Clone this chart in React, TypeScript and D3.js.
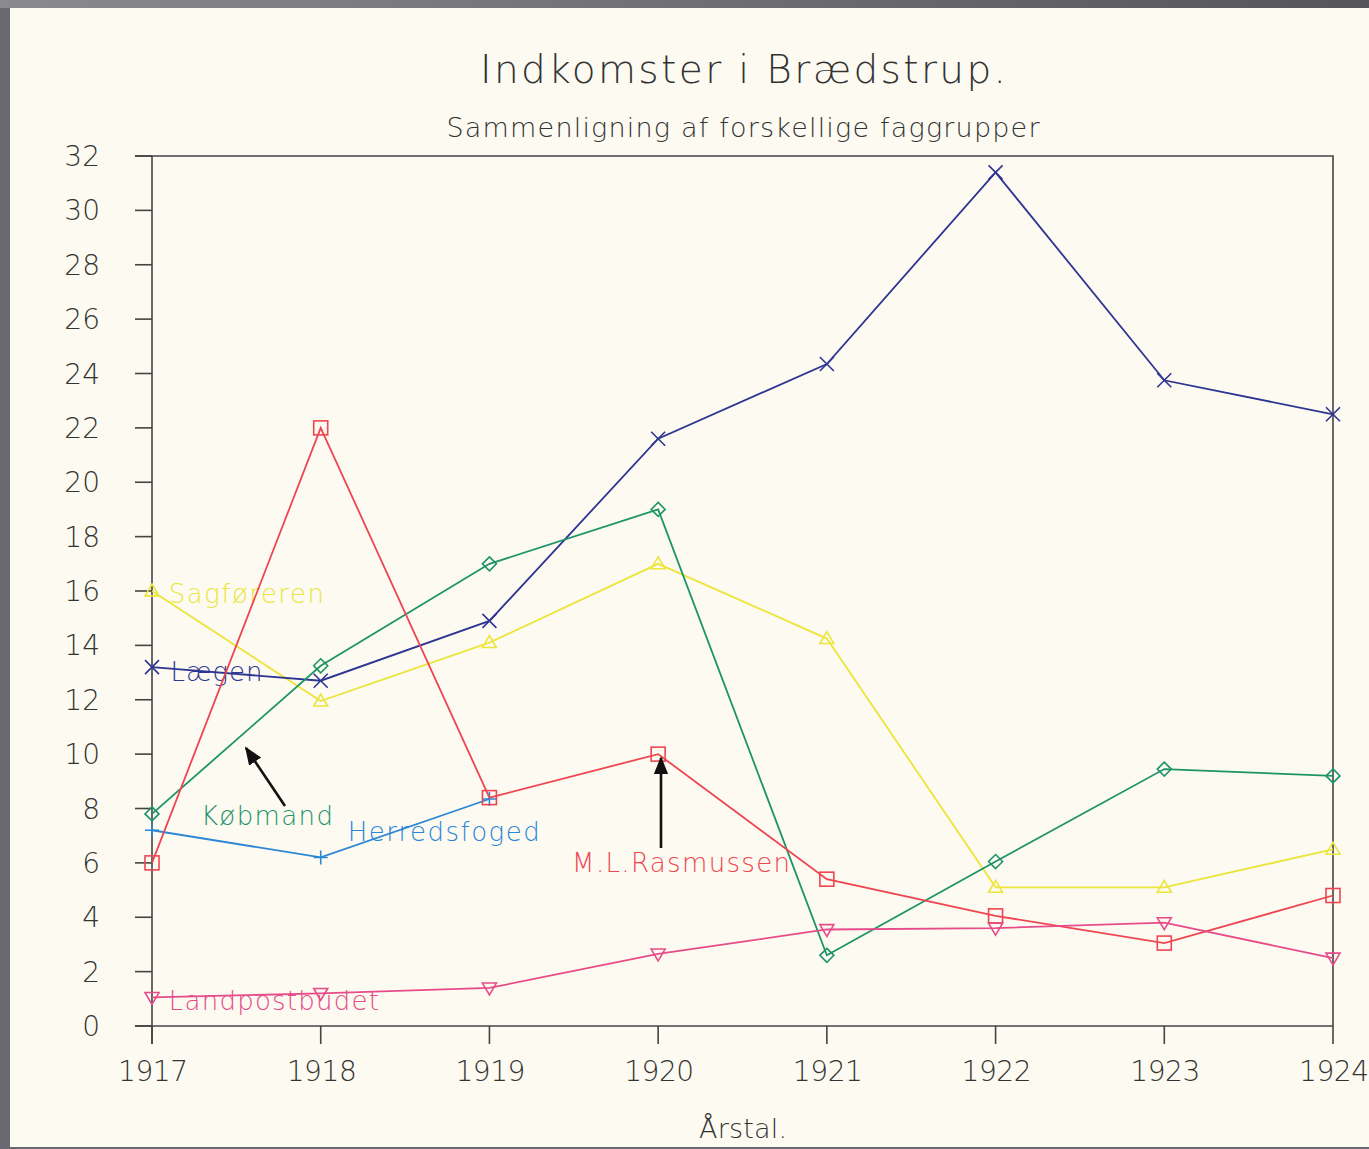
import * as d3 from "d3";

const years = [1917, 1918, 1919, 1920, 1921, 1922, 1923, 1924];
const yTicks = [0, 2, 4, 6, 8, 10, 12, 14, 16, 18, 20, 22, 24, 26, 28, 30, 32];

const laegen = [13.2, 12.7, 14.9, 21.6, 24.35, 31.4, 23.75, 22.5];
const kobmand = [7.8, 13.25, 17.0, 19.0, 2.6, 6.05, 9.45, 9.2];
const sagforeren = [16.0, 11.95, 14.1, 17.0, 14.25, 5.1, 5.1, 6.5];
const rasmussen = [6.0, 22.0, 8.4, 10.0, 5.4, 4.05, 3.05, 4.8];
const herredsfoged = [7.2, 6.2, 8.35];
const landpost = [1.05, 1.2, 1.4, 2.65, 3.55, 3.6, 3.8, 2.5];

const W = 1369;
const H = 1149;
const font = "'DejaVu Sans', sans-serif";

const series = [
  { name: "Sagføreren", values: sagforeren, color: "#ece53c", marker: "up", lx: 1917.1, ly: 15.55, lw: 155 },
  { name: "Lægen", values: laegen, color: "#2e3592", marker: "x", lx: 1917.11, ly: 12.7, lw: 92 },
  { name: "Købmand", values: kobmand, color: "#1e9468", marker: "diamond", lx: 1917.29, ly: 7.4, lw: 132 },
  { name: "Herredsfoged", values: herredsfoged, color: "#2c86d6", marker: "plus", lx: 1918.16, ly: 6.8, lw: 192 },
  { name: "M.L.Rasmussen", values: rasmussen, color: "#ee4650", marker: "square", lx: 1919.49, ly: 5.65, lw: 218 },
  { name: "Landpostbudet", values: landpost, color: "#e64c8a", marker: "down", lx: 1917.1, ly: 0.6, lw: 210 },
];

function Marker({ type, cx, cy, color }: { type: string; cx: number; cy: number; color: string }) {
  const s = 7;
  const common = { fill: "none", stroke: color, strokeWidth: 1.6 };
  if (type === "x")
    return <path {...common} d={`M${cx - s},${cy - s}L${cx + s},${cy + s}M${cx - s},${cy + s}L${cx + s},${cy - s}`} />;
  if (type === "plus")
    return <path {...common} d={`M${cx - s},${cy}L${cx + s},${cy}M${cx},${cy - s}L${cx},${cy + s}`} />;
  if (type === "square") return <rect {...common} x={cx - s} y={cy - s} width={2 * s} height={2 * s} />;
  if (type === "diamond")
    return <path {...common} d={`M${cx},${cy - s}L${cx + s},${cy}L${cx},${cy + s}L${cx - s},${cy}Z`} />;
  if (type === "up")
    return <path {...common} d={`M${cx},${cy - s}L${cx + s},${cy + s * 0.7}L${cx - s},${cy + s * 0.7}Z`} />;
  return <path {...common} d={`M${cx},${cy + s}L${cx + s},${cy - s * 0.7}L${cx - s},${cy - s * 0.7}Z`} />;
}

export default function App() {
  const x = d3.scaleLinear([1917, 1924], [152, 1333]);
  const y = d3.scaleLinear([0, 32], [1026, 156]);
  const line = d3.line<number>((d, i) => x(years[i]), (d) => y(d));

  return (
    <svg width={W} height={H} style={{ position: "absolute", left: 0, top: 0 }} fontFamily={font}>
      <defs>
        <linearGradient id="topband" x1="0" x2="1">
          <stop offset="0" stopColor="#8a8890" />
          <stop offset="1" stopColor="#55535c" />
        </linearGradient>
        <marker id="arrow" viewBox="0 0 10 10" refX="9" refY="5" markerWidth="7" markerHeight="7" orient="auto">
          <path d="M0,1L10,5L0,9Z" fill="#111" />
        </marker>
      </defs>
      <rect width={W} height={H} fill="#6a6870" />
      <rect x={0} y={0} width={W} height={8} fill="url(#topband)" />
      <rect x={10} y={8} width={W - 10} height={H - 10} fill="#fcfaf1" />

      <text x={743} y={83} textAnchor="middle" fontSize={39} fontWeight={200} fill="#333" textLength={526} lengthAdjust="spacing">
        Indkomster i Brædstrup.
      </text>
      <text x={743} y={137} textAnchor="middle" fontSize={27} fontWeight={200} fill="#333" textLength={593} lengthAdjust="spacing">
        Sammenligning af forskellige faggrupper
      </text>

      {/* frame */}
      <path d={`M${x(1917) - 17},${y(32)}H${x(1924)}V${y(0)}`} fill="none" stroke="#444" strokeWidth={1.6} />
      <line x1={x(1917)} x2={x(1917)} y1={y(32)} y2={y(0) + 18} stroke="#444" strokeWidth={1.6} />
      <line x1={x(1917) - 17} x2={x(1924)} y1={y(0)} y2={y(0)} stroke="#444" strokeWidth={1.6} />

      {yTicks.map((t) => (
        <g key={t}>
          <line x1={x(1917) - 17} x2={x(1917)} y1={y(t)} y2={y(t)} stroke="#444" strokeWidth={1.6} />
          <text x={100} y={y(t) + 10} textAnchor="end" fontSize={28} fontWeight={200} fill="#333">
            {t}
          </text>
        </g>
      ))}
      {years.map((yr) => (
        <g key={yr}>
          <line x1={x(yr)} x2={x(yr)} y1={y(0)} y2={y(0) + 18} stroke="#444" strokeWidth={1.6} />
          <text x={x(yr) + 1} y={1081} textAnchor="middle" fontSize={28} fontWeight={200} fill="#333" textLength={70} lengthAdjust="spacing">
            {yr}
          </text>
        </g>
      ))}
      <text x={743} y={1138} textAnchor="middle" fontSize={27} fontWeight={200} fill="#333" textLength={88} lengthAdjust="spacing">
        Årstal.
      </text>

      {series.map((s) => (
        <g key={s.name}>
          <path d={line(s.values) ?? ""} fill="none" stroke={s.color} strokeWidth={1.8} />
          {s.values.map((v, i) => (
            <Marker key={i} type={s.marker} cx={x(years[i])} cy={y(v)} color={s.color} />
          ))}
          <text x={x(s.lx)} y={y(s.ly)} fontSize={26} fontWeight={300} fill={s.color} textLength={s.lw} lengthAdjust="spacing">
            {s.name}
          </text>
        </g>
      ))}

      {/* arrows */}
      <line x1={285} y1={806} x2={246} y2={748} stroke="#111" strokeWidth={2.6} markerEnd="url(#arrow)" />
      <line x1={661} y1={848} x2={661} y2={758} stroke="#111" strokeWidth={2.6} markerEnd="url(#arrow)" />
    </svg>
  );
}
